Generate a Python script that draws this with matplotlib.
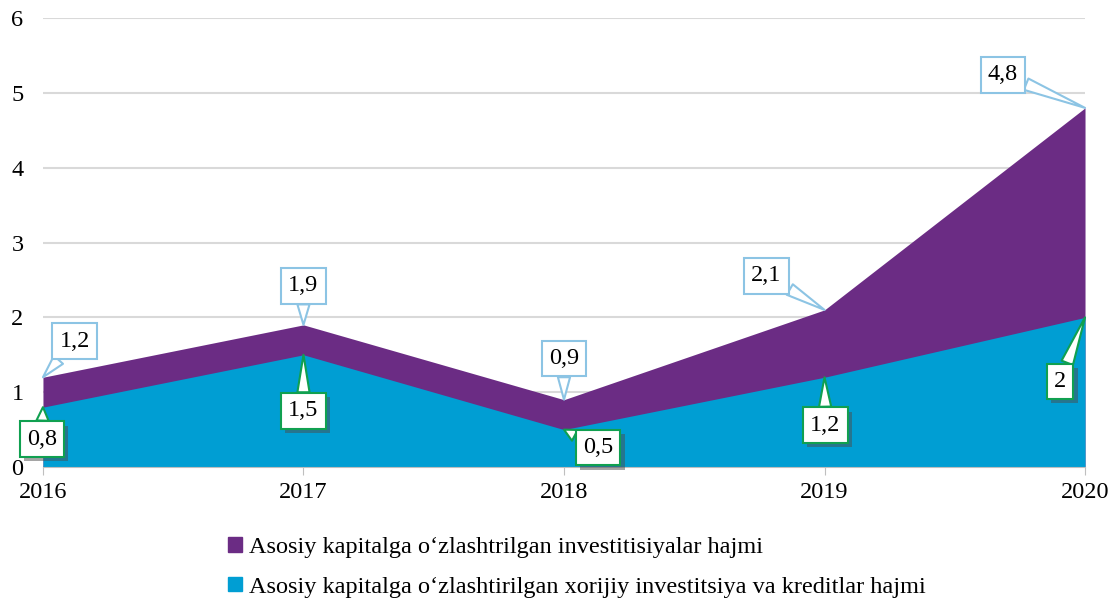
import matplotlib
matplotlib.use("Agg")
import numpy as np
from matplotlib import pyplot as plt
from matplotlib import patheffects
from matplotlib.patches import Patch

plt.rcParams["font.family"] = ["Liberation Serif", "DejaVu Serif"]

years = [2016, 2017, 2018, 2019, 2020]
total_inv = [1.2, 1.9, 0.9, 2.1, 4.8]
foreign_inv = [0.8, 1.5, 0.5, 1.2, 2.0]
total_lbl = ["1,2", "1,9", "0,9", "2,1", "4,8"]
foreign_lbl = ["0,8", "1,5", "0,5", "1,2", "2"]
series_names = [
    "Asosiy kapitalga o\u2018zlashtrilgan investitisiyalar hajmi",
    "Asosiy kapitalga o\u2018zlashtirilgan xorijiy investitsiya va kreditlar hajmi",
]

purple = "#6B2C84"
blue = "#009ED3"
callout_blue = "#8CC4E4"
callout_green = "#10A050"
fs = 17.5

# label offsets in pixels (dx, dy)
total_off = [(32, 36), (0, 39), (0, 41), (-58, 34), (-82, 33)]
foreign_off = [(-1, -32), (0, -56), (34, -18), (1, -48), (-25, -64)]

fig = plt.figure(figsize=(11.1, 6.03), dpi=100)
ax = fig.add_axes([0.0387, 0.2255, 0.9388, 0.7445])

ax.fill_between(years, 0, total_inv, color=purple, lw=0)
ax.fill_between(years, 0, foreign_inv, color=blue, lw=0)

ax.set_xlim(2016, 2020)
ax.set_ylim(0, 6)
ax.set_xticks(years)
ax.set_yticks(range(0, 7))
ax.tick_params(axis="both", labelsize=fs)
ax.tick_params(axis="y", length=0, pad=14)
ax.tick_params(axis="x", length=6, color="#bfbfbf", pad=5)
ax.grid(axis="y", color="#d9d9d9", lw=1.5)
ax.set_axisbelow(True)
for s in ["top", "right", "left"]:
    ax.spines[s].set_visible(False)
ax.spines["bottom"].set_color("#bfbfbf")

def callout(x, y, txt, off, ec, shadow=False):
    a = ax.annotate(
        txt, (x, y), xytext=off, textcoords="offset pixels",
        ha="center", va="center", fontsize=fs, zorder=5,
        bbox=dict(boxstyle="square,pad=0.3", fc="white", ec=ec, lw=1.5),
        arrowprops=dict(arrowstyle="wedge,tail_width=0.5,shrink_factor=0.5",
                        fc="white", ec=ec, lw=1.5, shrinkA=0, shrinkB=0),
        annotation_clip=False,
    )
    if shadow:
        a.get_bbox_patch().set_path_effects(
            [patheffects.withSimplePatchShadow(offset=(3, -3), alpha=0.5)])
    return a

for x, y, t, o in zip(years, total_inv, total_lbl, total_off):
    callout(x, y, t, o, callout_blue)
for x, y, t, o in zip(years, foreign_inv, foreign_lbl, foreign_off):
    callout(x, y, t, o, callout_green, shadow=True)

handles = [Patch(color=purple), Patch(color=blue)]
fig.legend(handles, series_names, loc="upper left", bbox_to_anchor=(0.197, 0.125),
           frameon=False, fontsize=fs, handlelength=0.55, handleheight=0.55,
           handletextpad=0.3, labelspacing=0.75, borderaxespad=0)

fig.savefig("out.png", dpi=100)
